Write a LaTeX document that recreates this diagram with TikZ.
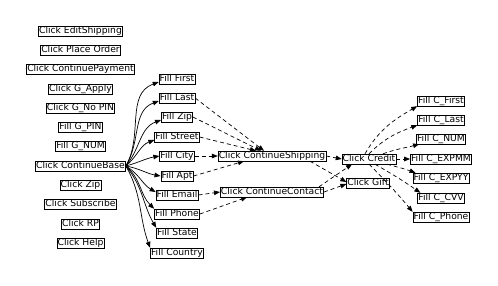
\documentclass[tikz,border=0pt]{standalone}
\usepackage{fontspec}
\setmainfont{DejaVu Sans}
\usetikzlibrary{arrows.meta, positioning}

\begin{document}
\begin{tikzpicture}[x=1pt, y=-1pt,
    act/.style={draw, line width=0.6pt, inner sep=0.7pt, text height=6.8pt, text depth=1.6pt, font=\fontsize{9.2}{10}\selectfont},
    flow/.style={-{Triangle[length=6pt,width=4.6pt]}, line width=0.7pt},
    weak/.style={flow, dash pattern=on 4pt off 3pt}]
  \useasboundingbox (0,0) rectangle (498,285);

  % Acciones sueltas
  \node[act] (editship) at (80.5,31) {Click EditShipping};
  \node[act] (placeorder) at (80.5,50) {Click Place Order};
  \node[act] (contpay) at (80.5,69) {Click ContinuePayment};
  \node[act] (gapply) at (80.5,89) {Click G\_Apply};
  \node[act] (gnopin) at (80.5,108) {Click G\_No PIN};
  \node[act] (gpin) at (80.5,127) {Fill G\_PIN};
  \node[act] (gnum) at (80.5,146) {Fill G\_NUM};
  \node[act] (base) at (80.5,166) {Click ContinueBase};
  \node[act] (zip) at (80.5,185) {Click Zip};
  \node[act] (subscribe) at (80.5,204) {Click Subscribe};
  \node[act] (rp) at (80.5,224) {Click RP};
  \node[act] (help) at (80.5,243) {Click Help};

  % Campos de envio
  \node[act] (ffirst) at (177,79) {Fill First};
  \node[act] (flast) at (177,98) {Fill Last};
  \node[act] (fzip) at (177,117) {Fill Zip};
  \node[act] (fstreet) at (177,137) {Fill Street};
  \node[act] (fcity) at (177,156) {Fill City};
  \node[act] (fapt) at (177,176) {Fill Apt};
  \node[act] (femail) at (177,195) {Fill Email};
  \node[act] (fphone) at (177,214) {Fill Phone};
  \node[act] (fstate) at (177,233) {Fill State};
  \node[act] (fcountry) at (177,253) {Fill Country};

  % Pasos siguientes
  \node[act] (shipping) at (272,156) {Click ContinueShipping};
  \node[act] (contact) at (272,192) {Click ContinueContact};
  \node[act] (credit) at (369,159) {Click Credit};
  \node[act] (gift) at (368,183) {Click Gift};

  % Campos de tarjeta
  \node[act] (cfirst) at (441,101) {Fill C\_First};
  \node[act] (clast) at (441,120) {Fill C\_Last};
  \node[act] (cnum) at (441,139) {Fill C\_NUM};
  \node[act] (cexpmm) at (441,159) {Fill C\_EXPMM};
  \node[act] (cexpyy) at (441,178) {Fill C\_EXPYY};
  \node[act] (ccvv) at (441,198) {Fill C\_CVV};
  \node[act] (cphone) at (441,217) {Fill C\_Phone};

  % ContinueBase hacia los campos
  \draw[flow] (base.east) to[out=60,in=200] ([yshift=-3pt]ffirst.west);
  \draw[flow] (base.east) to[out=58,in=200] ([yshift=-3pt]flast.west);
  \draw[flow] (base.east) to[out=50,in=200] ([yshift=-3pt]fzip.west);
  \draw[flow] (base.east) to[out=40,in=200] ([yshift=-3pt]fstreet.west);
  \draw[flow] (base.east) to[out=15,in=190] (fcity.west);
  \draw[flow] (base.east) to[out=-10,in=170] (fapt.west);
  \draw[flow] (base.east) to[out=-30,in=150] ([yshift=3pt]femail.west);
  \draw[flow] (base.east) to[out=-40,in=135] (fphone.north west);
  \draw[flow] (base.east) to[out=-50,in=120] (fstate.north west);
  \draw[flow] (base.east) to[out=-60,in=110] (fcountry.north west);

  % Campos hacia Continue
  \draw[weak] (flast.east) -- ([xshift=-8pt]shipping.north);
  \draw[weak] (fzip.east) -- ([xshift=-11pt]shipping.north);
  \draw[weak] (fstreet.east) -- ([xshift=-16pt]shipping.north);
  \draw[weak] (fcity.east) -- (shipping.west);
  \draw[weak] (fapt.east) -- ([xshift=-28pt]shipping.south);
  \draw[weak] (femail.east) -- (contact.west);
  \draw[weak] (fphone.east) -- ([xshift=-25pt]contact.south);

  % Continue hacia pago
  \draw[weak] (shipping.east) -- (credit.west);
  \draw[weak] ([xshift=38pt]shipping.south) -- ([yshift=1pt]gift.west);
  \draw[weak] ([xshift=-5pt]contact.north east) -- ([xshift=-17pt]credit.south);
  \draw[weak] (contact.east) -- ([yshift=-1pt]gift.west);

  % Credit hacia la tarjeta
  \draw[weak] ([xshift=-4pt]credit.north) to[out=60,in=210] (cfirst.south west);
  \draw[weak] (credit.north) to[out=45,in=200] (clast.south west);
  \draw[weak] ([xshift=14pt]credit.north) to[out=20,in=195] ([xshift=3pt]cnum.south west);
  \draw[weak] (credit.east) -- (cexpmm.west);
  \draw[weak] ([xshift=18pt]credit.south) to[out=-15,in=160] ([xshift=3pt]cexpyy.north west);
  \draw[weak] ([xshift=6pt]credit.south) to[out=-30,in=145] ([xshift=3pt]ccvv.north west);
  \draw[weak] (credit.south) to[out=-45,in=130] (cphone.north west);
\end{tikzpicture}
\end{document}
